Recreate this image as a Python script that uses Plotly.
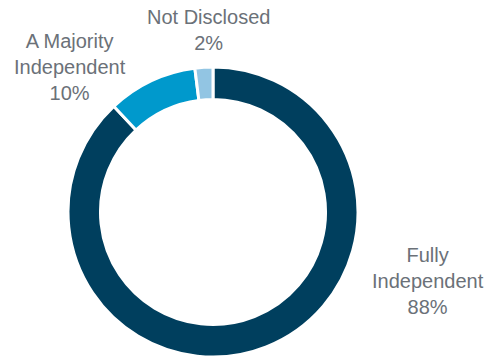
import plotly.graph_objects as go

# Board independence breakdown
categories = ["Fully Independent", "A Majority Independent", "Not Disclosed"]
label_lines = ["Fully<br>Independent", "A Majority<br>Independent", "Not Disclosed"]
shares = [88, 10, 2]
colors = ["#003F5E", "#0099CC", "#92C5E3"]

W, H = 491, 358
cx, cy, r = 213, 212, 145

fig = go.Figure(
    go.Pie(
        labels=categories,
        values=shares,
        hole=0.776,
        sort=False,
        direction="clockwise",
        rotation=0,
        marker=dict(colors=colors, line=dict(color="#FFFFFF", width=3)),
        textinfo="none",
        hoverinfo="label+percent",
        domain=dict(
            x=[(cx - r) / W, (cx + r) / W],
            y=[(H - cy - r) / H, (H - cy + r) / H],
        ),
        showlegend=False,
    )
)

# Outside labels: name and percentage for each slice
label_pos = [(428, 281), (70, 67), (208, 30)]
total = sum(shares)
for text, val, (px, py) in zip(label_lines, shares, label_pos):
    fig.add_annotation(
        x=px / W,
        y=(H - py) / H,
        xref="paper",
        yref="paper",
        xanchor="center",
        yanchor="middle",
        showarrow=False,
        text=f"{text}<br>{round(100 * val / total)}%",
        font=dict(family="Liberation Sans, Arial", size=20, color="#6B7178"),
    )

fig.update_layout(
    width=W,
    height=H,
    margin=dict(l=0, r=0, t=0, b=0),
    paper_bgcolor="#FFFFFF",
    plot_bgcolor="#FFFFFF",
)

fig.write_html("out.html")
